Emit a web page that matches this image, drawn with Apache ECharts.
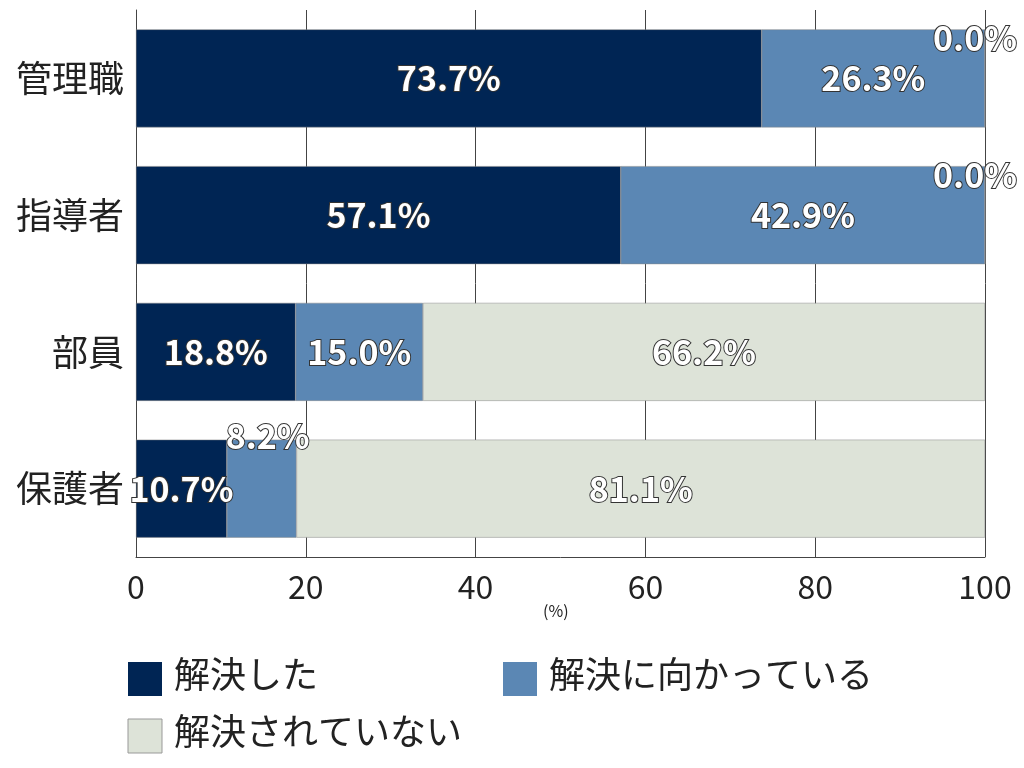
<!DOCTYPE html>
<html><head><meta charset="utf-8">
<script src="https://cdn.jsdelivr.net/npm/echarts@6/dist/echarts.min.js"></script>
<style>html,body{margin:0;padding:0;background:#fff}#c{width:1024px;height:768px}</style>
</head><body><div id="c"></div>
<script>
const categories = ['管理職','指導者','部員','保護者'];
const solved = [73.7, 57.1, 18.8, 10.7];
const progressing = [26.3, 42.9, 15.0, 8.2];
const unsolved = [0.0, 0.0, 66.2, 81.1];
const seriesNames = ['解決した','解決に向かっている','解決されていない'];
const xTicks = [0,20,40,60,80,100];

const font = '"Noto Sans CJK JP", sans-serif';
const lbl = {show:true, position:'inside', color:'#fff', fontSize:34, fontWeight:'bold', fontFamily:font,
  textBorderColor:'#333', textBorderWidth:2, formatter: p => p.value.toFixed(1)+'%'};
function mk(arr, special){
  return arr.map((v,i)=>{
    const d={value:v};
    if(special) { const s=special(v,i); if(s) d.label=s; }
    return d;
  });
}
const chart = echarts.init(document.getElementById('c'));
chart.setOption({
  animation:false,
  grid:{left:136,right:39,top:10,bottom:211},
  xAxis:{type:'value',min:0,max:100,interval:20,
    axisLabel:{fontSize:32,color:'#222',fontFamily:font,margin:14,formatter:v=>xTicks.includes(v)?String(v):''},
    splitLine:{lineStyle:{color:'#444',width:1}},
    axisLine:{show:true,lineStyle:{color:'#444'}},axisTick:{show:false}},
  yAxis:{type:'category',data:categories,inverse:true,
    axisLabel:{fontSize:36,color:'#222',fontFamily:font,margin:12},
    axisLine:{show:true,lineStyle:{color:'#444'}},axisTick:{show:false}},
  legend:{show:false},
  graphic:[
    {type:'text',left:543,top:603,style:{text:'(%)',fontSize:16,fill:'#222',fontFamily:font}},
    {type:'rect',shape:{x:128,y:662,width:34,height:34},style:{fill:'#002554'}},
    {type:'text',left:174,top:656,style:{text:seriesNames[0],fontSize:36,fill:'#222',fontFamily:font}},
    {type:'rect',shape:{x:503,y:662,width:34,height:34},style:{fill:'#5b87b4'}},
    {type:'text',left:549,top:656,style:{text:seriesNames[1],fontSize:36,fill:'#222',fontFamily:font}},
    {type:'rect',shape:{x:128,y:719,width:34,height:34},style:{fill:'#dde3d8',stroke:'#999',lineWidth:1}},
    {type:'text',left:174,top:713,style:{text:seriesNames[2],fontSize:36,fill:'#222',fontFamily:font}}
  ],
  series:[
    {name:seriesNames[0],type:'bar',stack:'a',barWidth:98,data:mk(solved),
      itemStyle:{color:'#002554',borderColor:'#888',borderWidth:0.5},label:lbl},
    {name:seriesNames[1],type:'bar',stack:'a',barWidth:98,
      data:mk(progressing,(v,i)=>i===3?{position:'top',offset:[6,18]}:null),
      itemStyle:{color:'#5b87b4',borderColor:'#888',borderWidth:0.5},label:lbl},
    {name:seriesNames[2],type:'bar',stack:'a',barWidth:98,
      data:mk(unsolved,(v)=>v===0?{position:'inside',offset:[-10,-40]}:null),
      itemStyle:{color:'#dde3d8',borderColor:'#888',borderWidth:0.5},label:lbl}
  ]
});
</script></body></html>
